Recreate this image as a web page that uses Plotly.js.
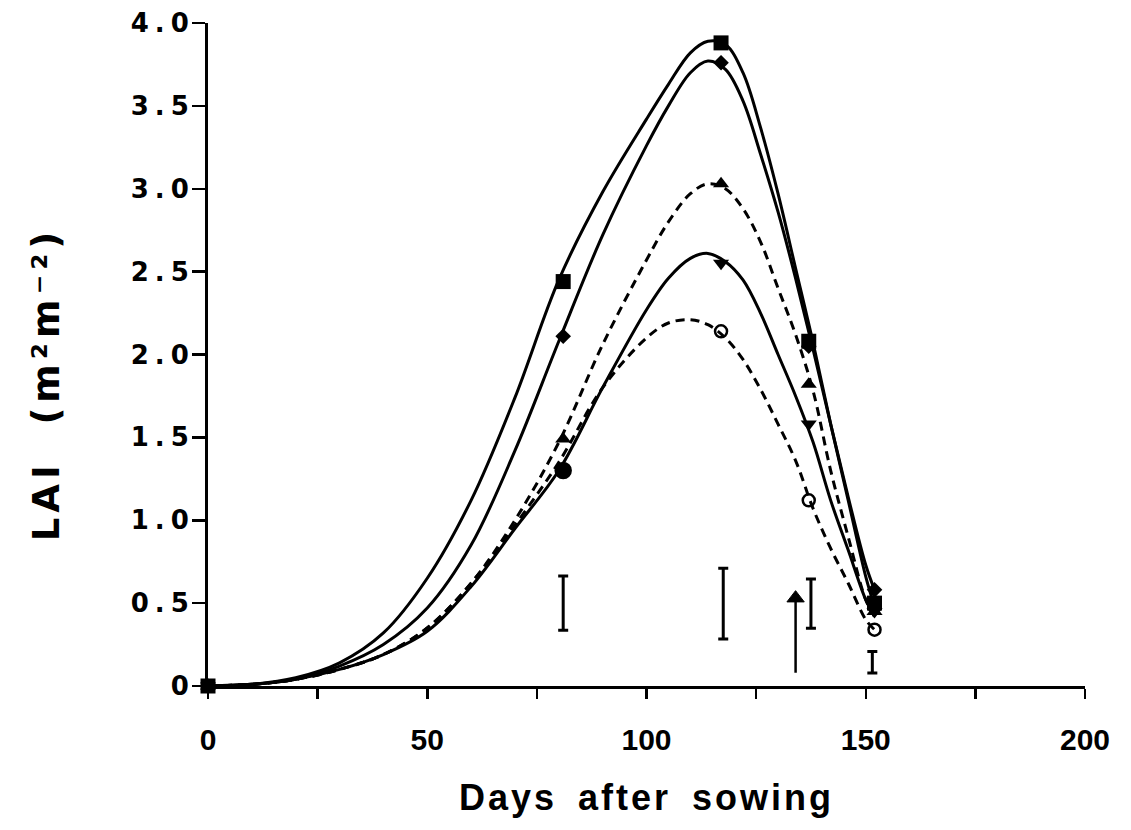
<!DOCTYPE html>
<html>
<head>
<meta charset="utf-8">
<script src="https://cdn.plot.ly/plotly-3.0.1.min.js"></script>
<style>
  html, body { margin: 0; padding: 0; background: #fff; }
  #chart { width: 1131px; height: 830px; }
  .ytick text { letter-spacing: 6px; }
  .annotation-text { letter-spacing: 5px; }
  .xtitle { letter-spacing: 3px; word-spacing: 8px; }
</style>
</head>
<body>
<div id="chart"></div>
<script>
// ---- Observed points (days after sowing) ----
const sampleDays = [0, 81, 117, 137, 152];
const laiSquare   = [0, 2.44, 3.88, 2.08, 0.50];
const laiDiamond  = [0, 2.11, 3.76, 2.05, 0.58];
const laiTriUp    = [0, 1.49, 3.03, 1.82, 0.45];
const laiTriDown  = [0, 1.30, 2.55, 1.58, 0.45];
const laiCircle   = [0, 1.30, 2.14, 1.12, 0.34];

// ---- Fitted curves ----
const curveDays = [0, 10, 20, 30, 40, 50, 60, 70, 80, 90, 100, 105, 110, 114, 118, 122, 126, 130, 134, 138, 142, 146, 150, 152];
const fitSquare   = [0, 0.01, 0.05, 0.14, 0.32, 0.65, 1.12, 1.74, 2.45, 2.98, 3.42, 3.63, 3.82, 3.89, 3.87, 3.70, 3.37, 2.97, 2.52, 2.07, 1.58, 1.12, 0.66, 0.48];
const fitDiamond  = [0, 0.01, 0.04, 0.12, 0.25, 0.47, 0.85, 1.42, 2.08, 2.72, 3.26, 3.50, 3.70, 3.77, 3.72, 3.53, 3.21, 2.86, 2.46, 2.03, 1.58, 1.14, 0.73, 0.58];
const fitTriUp    = [0, 0.01, 0.04, 0.10, 0.19, 0.35, 0.62, 1.00, 1.47, 2.06, 2.57, 2.80, 2.97, 3.03, 3.00, 2.88, 2.68, 2.40, 2.12, 1.78, 1.30, 0.90, 0.52, 0.42];
const fitTriDown  = [0, 0.01, 0.04, 0.10, 0.19, 0.33, 0.60, 0.95, 1.30, 1.80, 2.27, 2.46, 2.58, 2.61, 2.56, 2.45, 2.25, 2.00, 1.75, 1.47, 1.12, 0.82, 0.52, 0.42];
const fitCircle   = [0, 0.01, 0.04, 0.10, 0.19, 0.35, 0.62, 0.97, 1.35, 1.80, 2.10, 2.19, 2.21, 2.18, 2.10, 1.97, 1.79, 1.58, 1.36, 1.07, 0.83, 0.62, 0.40, 0.34];

// ---- LSD bars ----
const lsdDays    = [81, 117.5, 137.5, 151.5];
const lsdCenter  = [0.50, 0.497, 0.497, 0.143];
const lsdHalf    = [0.163, 0.213, 0.148, 0.065];

// ---- Arrow (day, from LAI, to LAI) ----
const arrowDays = [134, 134];
const arrowLai  = [0.08, 0.53];

// ---- Axis ticks / titles ----
const xTickVals = [0, 50, 100, 150, 200];
const xTickText = ['0', '50', '100', '150', '200'];
const xMinorVals = [25, 75, 125, 175];
const yTickVals = [0, 0.5, 1.0, 1.5, 2.0, 2.5, 3.0, 3.5, 4.0];
const yTickText = ['0', '0.5', '1.0', '1.5', '2.0', '2.5', '3.0', '3.5', '4.0'];
const xTitle = 'Days after sowing';
const yTitle = 'LAI  (m²m⁻²)';

const solid = {color: 'black', width: 3, shape: 'spline', smoothing: 1};
const dashed = {color: 'black', width: 3, shape: 'spline', smoothing: 1, dash: '9px,6px'};

const traces = [
  {x: curveDays, y: fitCircle,  mode: 'lines', line: dashed, hoverinfo: 'skip'},
  {x: curveDays, y: fitTriUp,   mode: 'lines', line: dashed, hoverinfo: 'skip'},
  {x: curveDays, y: fitTriDown, mode: 'lines', line: solid, hoverinfo: 'skip'},
  {x: curveDays, y: fitDiamond, mode: 'lines', line: solid, hoverinfo: 'skip'},
  {x: curveDays, y: fitSquare,  mode: 'lines', line: solid, hoverinfo: 'skip'},
  {x: sampleDays, y: laiCircle, mode: 'markers', cliponaxis: false,
   marker: {symbol: ['circle', 'circle', 'circle-open', 'circle-open', 'circle-open'], size: [1, 15, 12, 12, 12], color: '#000000', opacity: 1, line: {color: '#000000', width: 2.5}}},
  {x: sampleDays, y: laiTriDown, mode: 'markers', cliponaxis: false,
   marker: {symbol: 'triangle-down', size: 14, color: 'black'}},
  {x: sampleDays, y: laiTriUp, mode: 'markers', cliponaxis: false,
   marker: {symbol: 'triangle-up', size: 14, color: 'black'}},
  {x: sampleDays, y: laiDiamond, mode: 'markers', cliponaxis: false,
   marker: {symbol: 'diamond', size: 12, color: 'black'}},
  {x: sampleDays, y: laiSquare, mode: 'markers', cliponaxis: false,
   marker: {symbol: 'square', size: 15, color: 'black'}},
  {x: lsdDays, y: lsdCenter, mode: 'markers', cliponaxis: false,
   marker: {size: 2, color: 'rgba(0,0,0,0)'},
   error_y: {type: 'data', array: lsdHalf, visible: true, color: 'black', thickness: 3, width: 5}},
  {x: arrowDays, y: arrowLai, mode: 'lines+markers', cliponaxis: false,
   line: {color: 'black', width: 2.5},
   marker: {symbol: 'triangle-up', size: [0, 15], color: '#000000', opacity: 1}}
];

const layout = {
  width: 1131, height: 830,
  margin: {l: 208, r: 46, t: 23, b: 144},
  paper_bgcolor: 'white', plot_bgcolor: 'white',
  showlegend: false,
  xaxis: {
    range: [0, 200], showgrid: false, zeroline: false,
    showline: true, linecolor: 'black', linewidth: 3,
    ticks: 'outside', ticklen: 10, tickwidth: 2.5, tickcolor: 'black',
    tickmode: 'array', tickvals: xTickVals, ticktext: xTickText,
    minor: {tickmode: 'array', tickvals: xMinorVals, ticks: 'outside', ticklen: 10, tickwidth: 2.5, tickcolor: 'black', showgrid: false},
    ticklabelstandoff: 15,
    tickfont: {family: 'Liberation Sans Narrow, Liberation Sans, Arial', size: 30, color: 'black', weight: 'bold'},
    title: {text: xTitle, standoff: 30,
            font: {family: 'Liberation Sans, Arial', size: 36, color: 'black', weight: 'bold'}}
  },
  yaxis: {
    range: [0, 4.0], showgrid: false, zeroline: false,
    showline: true, linecolor: 'black', linewidth: 3,
    ticks: 'outside', ticklen: 13, tickwidth: 2.5, tickcolor: 'black',
    tickmode: 'array', tickvals: yTickVals, ticktext: yTickText,
    ticklabelstandoff: -8,
    tickfont: {family: 'DejaVu Sans, Liberation Sans', size: 26, color: 'black', weight: 'bold'}
  },
  annotations: [
    {
      text: yTitle, textangle: -90, showarrow: false,
      xref: 'paper', yref: 'paper', x: 0, y: 0.455, xanchor: 'center', yanchor: 'middle',
      xshift: -162,
      font: {family: 'DejaVu Sans, Liberation Sans', size: 37, color: 'black', weight: 'bold'}
    }
  ]
};

Plotly.newPlot('chart', traces, layout, {displayModeBar: false, staticPlot: true});
</script>
</body>
</html>
